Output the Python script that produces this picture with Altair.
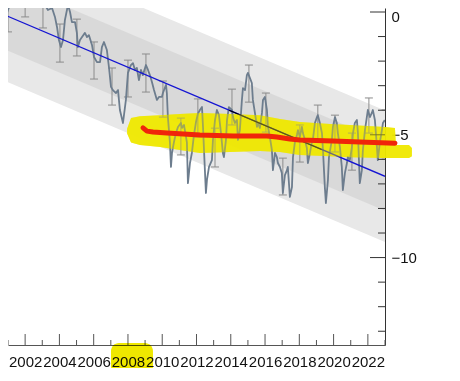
import altair as alt
import pandas as pd

# ---- monthly-ish series (decimal year, value) ----
ser_years = [
    2000.53, 2000.71, 2000.82, 2000.94, 2001.06, 2001.17, 2001.29, 2001.47, 2001.64, 2001.82,
    2001.99, 2002.11, 2002.28, 2002.46, 2002.57, 2002.75, 2002.87, 2002.98, 2003.16, 2003.33,
    2003.45, 2003.57, 2003.74, 2003.86, 2003.97, 2004.09, 2004.21, 2004.32, 2004.44, 2004.50,
    2004.62, 2004.73, 2004.91, 2005.02, 2005.08, 2005.20, 2005.32, 2005.49, 2005.61, 2005.72,
    2005.90, 2006.02, 2006.19, 2006.37, 2006.48, 2006.60, 2006.77, 2006.89, 2007.01, 2007.12,
    2007.30, 2007.42, 2007.53, 2007.71, 2007.88, 2008.00, 2008.17, 2008.29, 2008.41, 2008.52,
    2008.64, 2008.76, 2008.87, 2009.05, 2009.17, 2009.28, 2009.40, 2009.52, 2009.69, 2009.81,
    2009.98, 2010.04, 2010.22, 2010.27, 2010.33, 2010.45, 2010.51, 2010.57, 2010.68, 2010.80,
    2010.92, 2011.09, 2011.15, 2011.27, 2011.44, 2011.50, 2011.62, 2011.73, 2011.85, 2011.97,
    2012.08, 2012.20, 2012.32, 2012.38, 2012.49, 2012.55, 2012.61, 2012.73, 2012.90, 2012.96,
    2013.08, 2013.19, 2013.31, 2013.43, 2013.54, 2013.60, 2013.72, 2013.78, 2013.89, 2014.07,
    2014.13, 2014.24, 2014.36, 2014.42, 2014.53, 2014.65, 2014.71, 2014.83, 2014.94, 2015.00,
    2015.12, 2015.23, 2015.29, 2015.41, 2015.53, 2015.58, 2015.70, 2015.82, 2015.88, 2015.99,
    2016.11, 2016.17, 2016.28, 2016.40, 2016.46, 2016.58, 2016.69, 2016.75, 2016.87, 2016.98,
    2017.04, 2017.16, 2017.28, 2017.33, 2017.45, 2017.57, 2017.63, 2017.74, 2017.86, 2017.92,
    2018.03, 2018.15, 2018.21, 2018.33, 2018.44, 2018.50, 2018.62, 2018.73, 2018.79, 2018.91,
    2019.03, 2019.08, 2019.20, 2019.32, 2019.38, 2019.49, 2019.55, 2019.67, 2019.73, 2019.90,
    2019.96, 2020.08, 2020.19, 2020.25, 2020.37, 2020.48, 2020.54, 2020.66, 2020.78, 2020.83,
    2020.95, 2021.07, 2021.13, 2021.24, 2021.36, 2021.42, 2021.53, 2021.65, 2021.71, 2021.83,
    2021.94, 2022.00, 2022.12, 2022.23, 2022.29, 2022.41, 2022.53, 2022.58, 2022.70, 2022.82,
    2022.88, 2022.99,
]
ser_vals = [
    0.61, 0.41, 0.29, -0.04, 0.20, 0.37, 0.53, 0.90, 1.06, 0.81,
    0.53, 0.29, 0.41, 0.33, 0.37, 0.41, 0.24, 0.20, 0.29, 0.08,
    0.12, 0.16, -0.20, -0.61, -1.14, -1.43, -1.14, -0.33, 0.08, 0.29,
    0.00, -0.41, -0.41, -0.85, -1.43, -1.14, -1.02, -0.85, -1.02, -0.94,
    -1.34, -1.83, -2.04, -2.04, -1.43, -1.22, -1.55, -2.24, -3.05, -3.18,
    -3.30, -3.18, -3.99, -4.52, -3.58, -2.48, -2.16, -2.08, -2.36, -2.28,
    -2.77, -2.36, -2.57, -2.16, -2.36, -2.57, -2.85, -3.18, -3.58, -3.46,
    -3.46, -3.30, -2.97, -3.30, -4.28, -5.31, -6.31, -5.74, -5.31, -4.93,
    -4.68, -4.52, -4.72, -4.60, -5.31, -6.97, -6.15, -5.74, -5.01, -4.48,
    -4.15, -3.99, -3.87, -4.68, -6.44, -7.37, -6.84, -6.31, -6.03, -5.21,
    -4.40, -3.99, -4.20, -4.93, -5.74, -5.91, -5.21, -4.40, -3.87, -3.99,
    -4.28, -4.52, -4.40, -5.21, -4.81, -3.58, -3.10, -3.18, -2.57, -2.48,
    -2.69, -2.89, -3.58, -4.11, -4.68, -4.52, -4.72, -4.11, -3.58, -3.46,
    -3.99, -4.68, -5.09, -5.62, -6.44, -5.74, -5.91, -6.15, -6.31, -6.56,
    -7.37, -6.64, -6.44, -6.31, -7.53, -7.13, -5.91, -5.31, -5.01, -4.81,
    -5.09, -4.68, -4.93, -5.21, -5.54, -6.15, -5.74, -5.31, -5.21, -4.52,
    -4.28, -4.20, -4.52, -4.93, -5.62, -7.13, -7.78, -6.84, -5.91, -5.21,
    -4.68, -4.28, -4.52, -4.93, -5.50, -6.31, -7.25, -6.56, -6.15, -5.91,
    -6.03, -5.50, -4.93, -4.52, -4.40, -4.93, -6.97, -6.44, -5.62, -4.81,
    -4.28, -3.99, -4.28, -4.11, -3.99, -4.40, -5.50, -6.03, -5.31, -4.81,
    -4.52, -4.40,
]
assert len(ser_years) == len(ser_vals)

# ---- yearly error bars ----
eb_years = [2001.0, 2002.0, 2003.04, 2004.03, 2005.02, 2006.02, 2007.07, 2008.0, 2009.05,
            2010.04, 2011.09, 2012.08, 2013.08, 2014.07, 2015.06, 2016.05, 2017.04, 2018.03,
            2019.08, 2020.08, 2021.07, 2022.06, 2023.04]
eb_hi = [0.69, 1.30, 0.86, -0.49, -0.29, -1.22, -2.28, -1.96, -1.71, -2.81, -4.32, -3.54,
         -4.73, -3.14, -2.16, -3.30, -5.95, -4.60, -3.79, -4.20, -4.93, -3.50, -3.99]
eb_lo = [-0.81, -0.20, -0.65, -2.04, -1.79, -2.73, -3.79, -3.46, -3.26, -4.28, -5.82, -5.09,
         -6.31, -4.60, -3.67, -4.89, -7.45, -6.11, -5.21, -5.70, -6.44, -4.93, -5.99]

# ---- linear trend with two bands ----
trend_years = [2000.5, 2023.0]
trend_vals = [-0.03, -6.69]
inner_half = 1.40
outer_half = 2.68

# black sub-period segment
seg_years = [2013.9, 2019.3]
seg_vals = [-4.00, -5.60]

# ---- hand-drawn red line ----
red_years = [2008.88, 2009.11, 2009.46, 2010.28, 2012.20, 2014.13, 2016.11, 2016.69,
             2017.45, 2018.03, 2019.96, 2021.94, 2023.58]
red_vals = [-4.72, -4.85, -4.89, -4.93, -5.01, -5.05, -5.05, -5.09, -5.17, -5.21,
            -5.25, -5.30, -5.34]

# ---- yellow highlighter stroke ----
hl_years = [2007.95, 2008.18, 2008.70, 2009.87, 2011.03, 2012.20, 2013.95, 2015.70, 2016.87,
            2018.03, 2019.79, 2020.95, 2022.99, 2023.58, 2023.64, 2024.40, 2024.57]
hl_top = [-4.75, -4.32, -4.24, -4.20, -4.15, -4.11, -4.15, -4.20, -4.36, -4.48, -4.56,
          -4.60, -4.68, -4.72, -5.42, -5.42, -5.54]
hl_bot = [-4.95, -5.31, -5.42, -5.50, -5.62, -5.74, -5.70, -5.66, -5.70, -5.82, -5.87,
          -5.91, -5.95, -5.95, -5.95, -5.95, -5.87]

# highlight around the "2008" tick label
lab_hl_x = [2007.01, 2009.46]
lab_hl_v = [-13.48, -14.75]

# ---- ticks ----
x_major = list(range(2002, 2023, 2))
x_minor = list(range(2001, 2024, 2))
y_major = [0, -5, -10]
y_minor = [-1, -2, -3, -4, -6, -7, -8, -9, -11, -12, -13]

W, H = 377, 337
FONT = "Liberation Sans"
YELLOW = "#efe800"

xscale = alt.Scale(domain=[2001.0, 2023.0], nice=False, zero=False)
yscale = alt.Scale(domain=[-13.56, 0.163], nice=False, zero=False)
xaxis = alt.Axis(values=x_major, format="d", ticks=False, tickSize=0, labelOverlap=False,
                 labelFlush=False, labelPadding=9, labelFontSize=15, labelFont=FONT,
                 labelColor="#111111", domainColor="#555555", grid=False, title="")
yaxis = alt.Axis(orient="right", values=y_major, format="d", ticks=False, tickSize=0,
                 labelOverlap=False, labelFlush=False, labelPadding=6, labelFontSize=15,
                 labelOffset={"condition": {"test": "datum.value == 0", "value": 4}, "value": 0},
                 labelFont=FONT, labelColor="#111111", domainColor="#333333", grid=False,
                 title="")


def X(f="year"):
    return alt.X(f"{f}:Q", scale=xscale, axis=xaxis)


def Y(f="v"):
    return alt.Y(f"{f}:Q", scale=yscale, axis=yaxis)


series = pd.DataFrame({"year": ser_years, "v": ser_vals})
outer = pd.DataFrame({"year": trend_years,
                      "v": [t - outer_half for t in trend_vals],
                      "v2": [t + outer_half for t in trend_vals]})
inner = pd.DataFrame({"year": trend_years,
                      "v": [t - inner_half for t in trend_vals],
                      "v2": [t + inner_half for t in trend_vals]})
trend = pd.DataFrame({"year": trend_years, "v": trend_vals})
seg = pd.DataFrame({"year": seg_years, "v": seg_vals})
eb = pd.DataFrame({"year": eb_years, "v": eb_lo, "v2": eb_hi})
caps = pd.DataFrame({"year": eb_years + eb_years, "v": eb_lo + eb_hi})
red = pd.DataFrame({"year": red_years, "v": red_vals})
hl = pd.DataFrame({"year": hl_years, "v": hl_bot, "v2": hl_top})
labhl = pd.DataFrame({"year": [lab_hl_x[0]], "year2": [lab_hl_x[1]],
                      "v": [lab_hl_v[0]], "v2": [lab_hl_v[1]]})
xmaj = pd.DataFrame({"year": x_major})
xmin = pd.DataFrame({"year": x_minor})
ymaj = pd.DataFrame({"v": y_major})
ymin = pd.DataFrame({"v": y_minor})

l_outer = alt.Chart(outer).mark_area(color="#e8e8e8", clip=True).encode(
    x=X(), y=Y(), y2=alt.Y2("v2:Q"))
l_inner = alt.Chart(inner).mark_area(color="#d9d9d9", clip=True).encode(
    x=X(), y=Y(), y2=alt.Y2("v2:Q"))
l_hl_base = alt.Chart(hl).mark_area(color=YELLOW, opacity=0.92).encode(
    x=X(), y=Y(), y2=alt.Y2("v2:Q"))
l_eb = alt.Chart(eb).mark_rule(color="#8c8c8c", strokeWidth=1, clip=True).encode(
    x=X(), y=Y(), y2=alt.Y2("v2:Q"))
l_caps = alt.Chart(caps).mark_rule(color="#8c8c8c", strokeWidth=1, clip=True,
                                   xOffset=-4, x2Offset=4).encode(
    x=X(), x2=alt.X2("year:Q"), y=Y())
l_series = alt.Chart(series).mark_line(color="#6d7d8e", strokeWidth=1.8, clip=True,
                                       strokeJoin="round").encode(x=X(), y=Y())
l_trend = alt.Chart(trend).mark_line(color="#1414d2", strokeWidth=1.3, clip=True).encode(
    x=X(), y=Y())
l_seg = alt.Chart(seg).mark_line(color="#000000", strokeWidth=1.3, clip=True).encode(
    x=X(), y=Y())
l_hl_tint = alt.Chart(hl).mark_area(color=YELLOW, opacity=0.4).encode(
    x=X(), y=Y(), y2=alt.Y2("v2:Q"))
l_red = alt.Chart(red).mark_line(color="#f0250a", strokeWidth=5, strokeCap="round",
                                 strokeJoin="round").encode(x=X(), y=Y())
l_xmaj = alt.Chart(xmaj).mark_rule(color="#555555", strokeWidth=1).encode(
    x=X(), y=alt.value(H - 11), y2=alt.value(H))
l_xmin = alt.Chart(xmin).mark_rule(color="#555555", strokeWidth=1).encode(
    x=X(), y=alt.value(H - 5), y2=alt.value(H))
l_ymaj = alt.Chart(ymaj).mark_rule(color="#333333", strokeWidth=1).encode(
    y=Y(), x=alt.value(W - 15), x2=alt.value(W))
l_ymin = alt.Chart(ymin).mark_rule(color="#333333", strokeWidth=1).encode(
    y=Y(), x=alt.value(W - 7), x2=alt.value(W))
l_labhl = alt.Chart(labhl).mark_rect(color=YELLOW, blend="multiply", cornerRadius=8).encode(
    x=X(), x2=alt.X2("year2:Q"), y=Y(), y2=alt.Y2("v2:Q"))

chart = alt.layer(
    l_outer, l_inner, l_hl_base, l_eb, l_caps, l_series, l_trend, l_seg,
    l_xmaj, l_xmin, l_ymaj, l_ymin, l_hl_tint, l_red, l_labhl,
).properties(
    width=W, height=H,
    autosize=alt.AutoSizeParams(type="none"),
    padding={"left": 0, "top": 0, "right": 60, "bottom": 23},
    background="white",
).configure_view(stroke="transparent")

chart.save("out.html", embed_options={"renderer": "svg", "actions": False})
